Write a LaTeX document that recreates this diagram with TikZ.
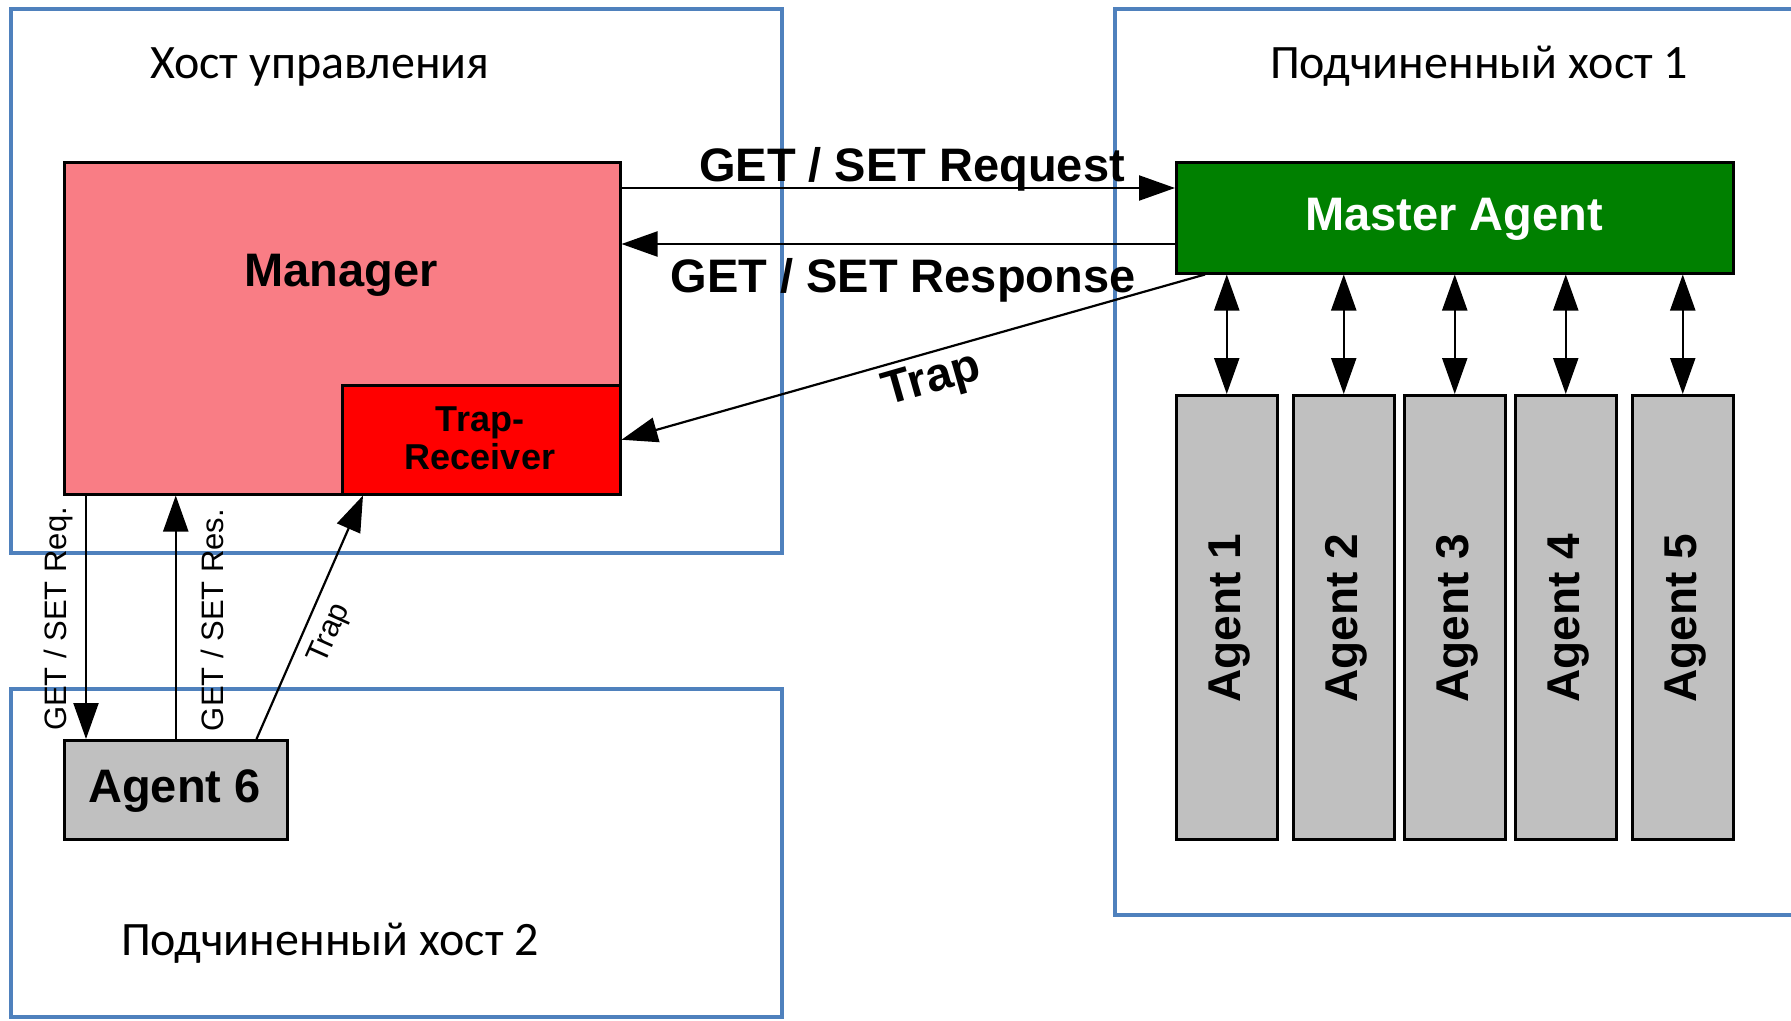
\documentclass[tikz,border=0pt]{standalone}
\usepackage{fontspec}
\setmainfont{Liberation Sans}
\newfontfamily\titlefont{Carlito}
\usetikzlibrary{arrows.meta,calc}

\definecolor{hostblue}{HTML}{4F81BD}
\definecolor{mgrpink}{HTML}{F97D85}
\definecolor{trapred}{HTML}{FF0000}
\definecolor{mastergreen}{HTML}{008000}
\definecolor{agentgray}{HTML}{C0C0C0}

\begin{document}
\begin{tikzpicture}[x=1pt,y=-1pt,
  host/.style={draw=hostblue,line width=4pt},
  box/.style={draw=black,line width=2.5pt,rectangle,inner sep=0pt,anchor=north west},
  tip/.tip={Triangle[length=36pt,width=25pt]},
  flow/.style={line width=2.2pt,-tip},
  both/.style={line width=2.2pt,tip-tip},
  hosttitle/.style={font=\titlefont\fontsize{48}{54}\selectfont,anchor=base,inner sep=0pt},
  bigtxt/.style={font=\fontsize{47}{52}\selectfont\bfseries,anchor=base,inner sep=0pt},
  agenttxt/.style={font=\fontsize{46}{52}\selectfont\bfseries,anchor=base,inner sep=0pt,rotate=90},
  smalltxt/.style={font=\fontsize{31}{36}\selectfont,anchor=base,inner sep=0pt,rotate=90}
]
\useasboundingbox (0,0) rectangle (1791,1020);
\clip (0,0) rectangle (1791,1020);
\fill[white] (0,0) rectangle (1791,1020);

% host frames
\draw[host] (11,9) rectangle (782,553);
\draw[host] (11,689) rectangle (782,1017);
\draw[host] (1115,9) rectangle (1805,915);

\node[hosttitle] (t0) at (320,78) {Хост управления};
\node[hosttitle] (t1) at (1479,78) {Подчиненный хост 1};
\node[hosttitle] (t2) at (330,955) {Подчиненный хост 2};

% managing host
\node[box,fill=mgrpink,minimum width=556pt,minimum height=332pt] (manager) at (63,161) {};
\node[bigtxt] (mgrlbl) at (341,286) {Manager};
\node[box,fill=trapred,minimum width=278pt,minimum height=109pt] (trap) at (341,384) {};
\node[font=\fontsize{36}{40}\selectfont\bfseries,align=center,inner sep=0pt] (traplbl) at (480,438) {Trap-\\[-2pt]Receiver};

% slave host 1
\node[box,fill=mastergreen,minimum width=557pt,minimum height=111pt] (master) at (1175,161) {};
\node[bigtxt,text=white] (masterlbl) at (1454,230) {Master Agent};

\foreach \i/\x in {1/1175,2/1292,3/1403,4/1514,5/1631}{
  \node[box,fill=agentgray,minimum width=101pt,minimum height=444pt] (a\i) at (\x,394) {};
  \node[agenttxt] (al\i) at (\x+65,618) {Agent \i};
  \draw[both] (a\i.north |- master.south) -- (a\i.north);
}

% slave host 2
\node[box,fill=agentgray,minimum width=223pt,minimum height=99pt] (agent6) at (63,739) {};
\node[bigtxt] (a6lbl) at (174.5,802) {Agent 6};

% manager <-> master agent
\draw[flow] ($(manager.north east)+(0,27)$) -- ($(master.north west)+(0,27)$);
\draw[flow] ($(master.north west)+(0,83)$) -- ($(manager.north east)+(0,83)$);
\node[bigtxt] (reqlbl) at (912,181) {GET / SET Request};
\node[bigtxt] (reslbl) at (903,292) {GET / SET Response};

\draw[flow] ($(master.south west)+(30,0)$) -- (trap.east);
\node[font=\fontsize{47}{52}\selectfont\bfseries,rotate=16,inner sep=0pt] (traptxt) at (932,381) {Trap};

% manager <-> agent 6
\draw[flow] ($(manager.south west)+(23,0)$) -- ($(agent6.north west)+(23,0)$);
\draw[flow] (agent6.north) -- (agent6.north |- manager.south);
\draw[flow] ($(agent6.north east)+(-32,0)$) -- ($(trap.south west)+(22,0)$);
\node[smalltxt] (sreq) at (66,619) {GET / SET Req.};
\node[smalltxt] (sres) at (223,620) {GET / SET Res.};
\node[font=\fontsize{31}{36}\selectfont,rotate=66,inner sep=0pt] (strap) at (330,634) {Trap};
\end{tikzpicture}
\end{document}
